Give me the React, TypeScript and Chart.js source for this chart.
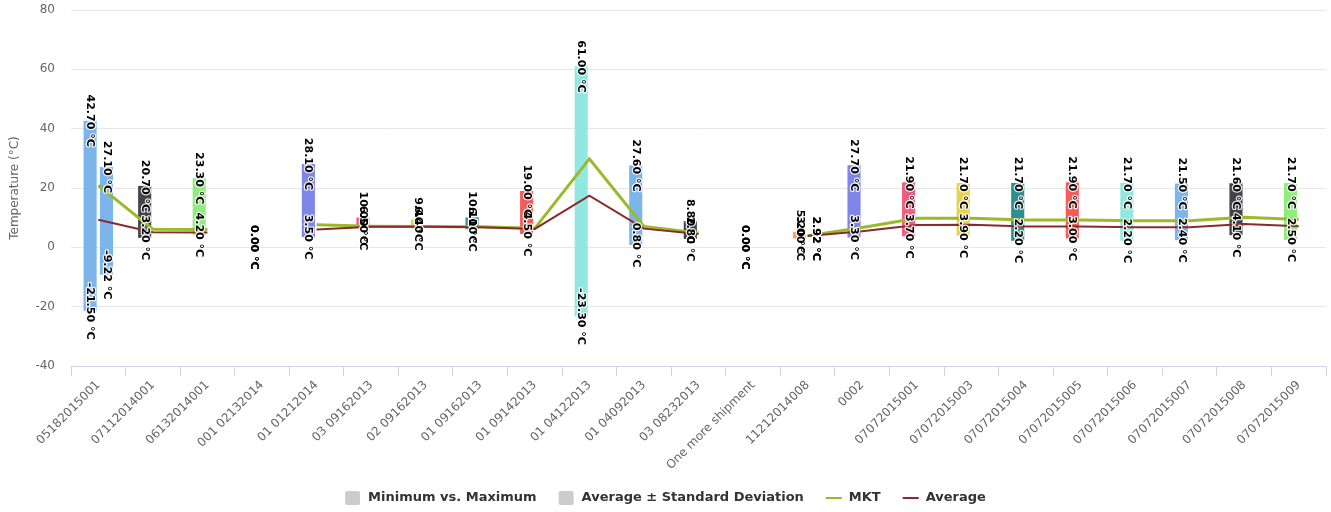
import React, { useEffect, useRef } from 'react';
import { Chart, registerables } from 'chart.js';

Chart.register(...registerables);

const categories = [
  '05182015001', '07112014001', '06132014001', '001 02132014', '01 01212014',
  '03 09162013', '02 09162013', '01 09162013', '01 09142013', '01 04122013',
  '01 04092013', '03 08232013', 'One more shipment', '11212014008', '0002',
  '07072015001', '07072015003', '07072015004', '07072015005', '07072015006',
  '07072015007', '07072015008', '07072015009',
];

const minValues = [-21.5, 3.2, 4.2, 0, 3.5, 6.5, 6.4, 6.1, 4.5, -23.3, 0.8, 2.8, 0, 3.0, 3.3, 3.7, 3.9, 2.2, 3.0, 2.2, 2.4, 4.1, 2.5];
const maxValues = [42.7, 20.7, 23.3, 0, 28.1, 10.0, 9.4, 10.1, 19.0, 61.0, 27.6, 8.8, 0, 5.2, 27.7, 21.9, 21.7, 21.7, 21.9, 21.7, 21.5, 21.6, 21.7];

const stdLowValues: (number | null)[] = [-9.22, null, null, null, null, null, null, null, null, null, null, null, null, 2.92, null, null, null, null, null, null, null, null, null];
const stdHighValues: (number | null)[] = [27.1, null, null, null, null, null, null, null, null, null, null, null, null, 2.92, null, null, null, null, null, null, null, null, null];

const mktValues: (number | null)[] = [20.9, 6.1, 6.0, null, 7.6, 7.1, 7.0, 6.9, 6.4, 29.8, 7.0, 4.8, null, 3.9, 6.7, 9.8, 9.8, 9.2, 9.2, 9.0, 9.0, 10.1, 9.4];
const avgValues: (number | null)[] = [9.3, 5.1, 5.0, null, 6.0, 6.9, 6.9, 6.8, 6.2, 17.4, 6.3, 4.5, null, 3.8, 5.4, 7.5, 7.6, 7.0, 7.0, 6.8, 6.8, 7.9, 7.1];

const palette = ['#7cb5ec', '#434348', '#90ed7d', '#f7a35c', '#8085e9', '#f15c80', '#e4d354', '#2b908f', '#f45b5b', '#91e8e1'];

const MKT_COLOR = '#9aba2c';
const AVG_COLOR = '#8b2a2a';
const FONT = '"DejaVu Sans", sans-serif';

const legendItems = [
  { label: 'Minimum vs. Maximum', kind: 'rect', color: '#cccccc' },
  { label: 'Average ± Standard Deviation', kind: 'rect', color: '#cccccc' },
  { label: 'MKT', kind: 'line', color: MKT_COLOR },
  { label: 'Average', kind: 'line', color: AVG_COLOR },
];

const fmt = (v: number) => `${v.toFixed(2)} °C`;

const rangeLabelPlugin = {
  id: 'rangeLabels',
  afterDatasetsDraw(chart: any) {
    const ctx = chart.ctx;
    const yScale = chart.scales.y;
    const items: { x: number; y: number; text: string }[] = [];
    const sets = [
      { di: 0, lows: minValues as (number | null)[], highs: maxValues as (number | null)[] },
      { di: 1, lows: stdLowValues, highs: stdHighValues },
    ];
    sets.forEach(({ di, lows, highs }) => {
      const meta = chart.getDatasetMeta(di);
      meta.data.forEach((el: any, i: number) => {
        const lo = lows[i];
        const hi = highs[i];
        if (lo == null || hi == null) return;
        items.push({ x: el.x, y: yScale.getPixelForValue(hi), text: fmt(hi) });
        items.push({ x: el.x, y: yScale.getPixelForValue(lo), text: fmt(lo) });
      });
    });
    ctx.save();
    ctx.font = `bold 11px ${FONT}`;
    ctx.textAlign = 'center';
    ctx.textBaseline = 'middle';
    ctx.lineJoin = 'round';
    for (const pass of [0, 1]) {
      items.forEach((it) => {
        ctx.save();
        ctx.translate(it.x, it.y);
        ctx.rotate(Math.PI / 2);
        if (pass === 0) {
          ctx.lineWidth = 2.5;
          ctx.strokeStyle = 'rgba(255,255,255,0.85)';
          ctx.strokeText(it.text, 0, 0);
        } else {
          ctx.fillStyle = '#000000';
          ctx.fillText(it.text, 0, 0);
        }
        ctx.restore();
      });
    }
    ctx.restore();
  },
};

const legendPlugin = {
  id: 'customLegend',
  afterDraw(chart: any) {
    const ctx = chart.ctx;
    ctx.save();
    ctx.font = `bold 13px ${FONT}`;
    const symW = 16;
    const symPad = 7;
    const itemDist = 22;
    const widths = legendItems.map((it) => symW + symPad + ctx.measureText(it.label).width);
    const total = widths.reduce((a, b) => a + b, 0) + itemDist * (legendItems.length - 1);
    let x = chart.width / 2 - total / 2;
    const cy = 498;
    legendItems.forEach((it, i) => {
      if (it.kind === 'rect') {
        ctx.fillStyle = it.color;
        ctx.beginPath();
        ctx.roundRect(x, cy - 7, 15, 14, 2);
        ctx.fill();
      } else {
        ctx.strokeStyle = it.color;
        ctx.lineWidth = 2;
        ctx.beginPath();
        ctx.moveTo(x, cy);
        ctx.lineTo(x + symW, cy);
        ctx.stroke();
      }
      ctx.fillStyle = '#333333';
      ctx.textAlign = 'left';
      ctx.textBaseline = 'middle';
      ctx.fillText(it.label, x + symW + symPad, cy);
      x += widths[i] + itemDist;
    });
    ctx.restore();
  },
};

export default function App() {
  const canvasRef = useRef<HTMLCanvasElement | null>(null);

  useEffect(() => {
    const canvas = canvasRef.current;
    if (!canvas) return;
    Chart.defaults.font.family = FONT;
    const colors = categories.map((_, i) => palette[i % palette.length]);
    const chart = new Chart(canvas, {
      type: 'bar',
      data: {
        labels: categories,
        datasets: [
          {
            type: 'bar',
            label: 'Minimum vs. Maximum',
            data: categories.map((_, i) => [minValues[i], maxValues[i]]) as any,
            backgroundColor: colors,
            borderWidth: 0,
            borderSkipped: false,
            categoryPercentage: 0.6,
            barPercentage: 0.8,
            order: 3,
          },
          {
            type: 'bar',
            label: 'Average ± Standard Deviation',
            data: categories.map((_, i) =>
              stdLowValues[i] == null || stdHighValues[i] == null ? null : [stdLowValues[i], stdHighValues[i]]
            ) as any,
            backgroundColor: colors,
            borderWidth: 0,
            borderSkipped: false,
            categoryPercentage: 0.6,
            barPercentage: 0.8,
            order: 3,
          },
          {
            type: 'line',
            label: 'MKT',
            data: mktValues as any,
            borderColor: MKT_COLOR,
            backgroundColor: MKT_COLOR,
            borderWidth: 3,
            pointRadius: 0,
            fill: false,
            spanGaps: false,
            tension: 0,
            order: 2,
          },
          {
            type: 'line',
            label: 'Average',
            data: avgValues as any,
            borderColor: AVG_COLOR,
            backgroundColor: AVG_COLOR,
            borderWidth: 2,
            pointRadius: 0,
            fill: false,
            spanGaps: false,
            tension: 0,
            order: 1,
          },
        ],
      },
      options: {
        responsive: false,
        animation: false,
        devicePixelRatio: 1,
        layout: { padding: { top: 10, right: 5, left: 0, bottom: 0 } },
        plugins: {
          legend: { display: false },
          tooltip: { enabled: false },
        },
        scales: {
          x: {
            type: 'category',
            offset: true,
            grid: {
              offset: true,
              drawOnChartArea: false,
              drawTicks: true,
              tickLength: 10,
              color: '#ccd6eb',
            },
            border: { color: '#ccd6eb' },
            ticks: {
              autoSkip: false,
              minRotation: 45,
              maxRotation: 45,
              color: '#666666',
              padding: 2,
              font: { size: 12, family: FONT },
            },
            afterFit: (scale: any) => {
              scale.height = 146;
            },
          },
          y: {
            min: -40,
            max: 80,
            ticks: {
              stepSize: 20,
              color: '#666666',
              padding: 16,
              font: { size: 12, family: FONT },
            },
            grid: { color: '#e6e6e6', drawTicks: false },
            border: { display: false },
            title: {
              display: true,
              text: 'Temperature (°C)',
              color: '#666666',
              font: { size: 12, family: FONT },
              padding: { top: 8, bottom: 0 },
            },
            afterFit: (scale: any) => {
              scale.width = 71;
              scale.paddingTop = 0;
              scale.paddingBottom = 0;
            },
          },
        },
      },
      plugins: [rangeLabelPlugin, legendPlugin],
    });
    return () => chart.destroy();
  }, []);

  return (
    <div style={{ position: 'fixed', left: 0, top: 0, width: 1331, height: 512, background: '#ffffff' }}>
      <canvas ref={canvasRef} width={1331} height={512} style={{ display: 'block' }} />
    </div>
  );
}
